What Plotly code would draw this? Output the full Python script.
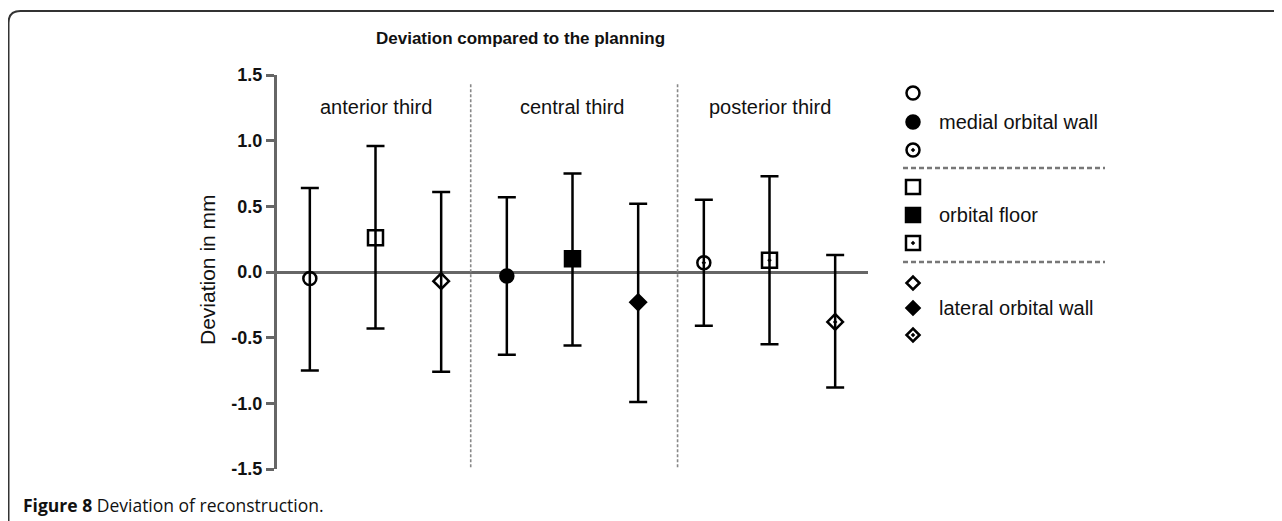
import plotly.graph_objects as go

# ---------------- data ----------------
regions = ["anterior third", "central third", "posterior third"]
structures = ["medial orbital wall", "orbital floor", "lateral orbital wall"]

# mean deviation (mm) per region, order: medial, floor, lateral
mean_anterior = [-0.05, 0.26, -0.07]
mean_central = [-0.03, 0.10, -0.23]
mean_posterior = [0.07, 0.09, -0.38]

upper_anterior = [0.64, 0.96, 0.61]
upper_central = [0.57, 0.75, 0.52]
upper_posterior = [0.55, 0.73, 0.13]

lower_anterior = [-0.75, -0.43, -0.76]
lower_central = [-0.63, -0.56, -0.99]
lower_posterior = [-0.41, -0.55, -0.88]

tick_vals = [-1.5, -1.0, -0.5, 0.0, 0.5, 1.0, 1.5]
tick_text = ["-1.5", "-1.0", "-0.5", "0.0", "0.5", "1.0", "1.5"]

title_text = "Deviation compared to the planning"
y_title = "Deviation in mm"
caption_bold = "Figure 8"
caption_rest = " Deviation of reconstruction."

# ---------------- styling ----------------
W, H = 1282, 521
OFF = 8  # page body margin offset
PL, PR, PT, PB = 277, 868, 75, 469  # plot area in screen pixels
FONT = "Liberation Sans, Arial, sans-serif"

shapes_by_region = [
    ["circle-open", "square-open", "diamond-open"],
    ["circle", "square", "diamond"],
    ["circle-open-dot", "square-open-dot", "diamond-open-dot"],
]
sizes = [13, 15, 12]
leg_sizes = [13, 14, 10]

means = [mean_anterior, mean_central, mean_posterior]
uppers = [upper_anterior, upper_central, upper_posterior]
lowers = [lower_anterior, lower_central, lower_posterior]

fig = go.Figure()

for r in range(3):
    for s in range(3):
        m = means[r][s]
        fig.add_trace(go.Scatter(
            x=[r * 3 + s], y=[m], mode="markers",
            marker=dict(symbol=shapes_by_region[r][s], size=sizes[s], color="black",
                        line=dict(color="black", width=2.5)),
            error_y=dict(type="data", symmetric=False,
                         array=[uppers[r][s] - m], arrayminus=[m - lowers[r][s]],
                         color="black", thickness=2.5, width=9),
            showlegend=False, xaxis="x", yaxis="y", cliponaxis=False,
        ))

# legend drawn in a pixel-space overlay axis (screen pixel coordinates)
leg_x = 913
leg_rows = [93, 122, 150, 187, 215, 243, 283, 308, 335]
for s in range(3):
    for r in range(3):
        fig.add_trace(go.Scatter(
            x=[leg_x], y=[leg_rows[s * 3 + r]], mode="markers",
            marker=dict(symbol=shapes_by_region[r][s], size=leg_sizes[s], color="black",
                        line=dict(color="black", width=2.5)),
            showlegend=False, xaxis="x2", yaxis="y2", hoverinfo="skip", cliponaxis=False,
        ))

annotations = []
for s in range(3):
    annotations.append(dict(x=937, y=leg_rows[s * 3 + 1], xref="x2", yref="y2",
                            text=structures[s], showarrow=False, xanchor="left",
                            yanchor="middle", font=dict(family=FONT, size=20, color="#111")))

for r in range(3):
    annotations.append(dict(x=r * 3 + 1, y=1.26, xref="x", yref="y", text=regions[r],
                            showarrow=False, xanchor="center", yanchor="middle",
                            font=dict(family=FONT, size=20, color="#111")))

annotations.append(dict(x=520, y=38, xref="x2", yref="y2", text="<b>" + title_text + "</b>",
                        showarrow=False, xanchor="center", yanchor="middle",
                        font=dict(family=FONT, size=17, color="#111")))
annotations.append(dict(x=207, y=270, xref="x2", yref="y2", text=y_title, textangle=-90,
                        showarrow=False, xanchor="center", yanchor="middle",
                        font=dict(family=FONT, size=21, color="#111")))
annotations.append(dict(x=21, y=505, xref="x2", yref="y2",
                        text="<b>" + caption_bold + "</b>" + caption_rest,
                        showarrow=False, xanchor="left", yanchor="middle",
                        font=dict(family="Open Sans, sans-serif", size=17.5, color="#111")))

shapes = [
    # frame
    dict(type="path", path="M 8.5,540 L 8.5,23 Q 8.5,11 20.5,11 L 1300,11",
         xref="x2", yref="y2", line=dict(color="#333", width=2)),
    # region dividers
    dict(type="line", x0=2.45, x1=2.45, y0=1.43, y1=-1.5, xref="x", yref="y",
         line=dict(color="#888", width=1.6, dash="3px,2px")),
    dict(type="line", x0=5.6, x1=5.6, y0=1.43, y1=-1.5, xref="x", yref="y",
         line=dict(color="#888", width=1.6, dash="3px,2px")),
    # legend separators
    dict(type="line", x0=903, x1=1105, y0=168, y1=168, xref="x2", yref="y2",
         line=dict(color="#777", width=2.5, dash="5px,3px")),
    dict(type="line", x0=903, x1=1105, y0=262, y1=262, xref="x2", yref="y2",
         line=dict(color="#777", width=2.5, dash="5px,3px")),
]

fig.update_layout(
    template="none",
    width=W, height=H, autosize=False,
    margin=dict(l=0, r=0, t=0, b=0, pad=0, autoexpand=False),
    paper_bgcolor="white", plot_bgcolor="rgba(0,0,0,0)",
    showlegend=False,
    xaxis=dict(domain=[(PL - OFF) / W, (PR - OFF) / W], range=[-0.5, 8.5],
               visible=False, fixedrange=True, automargin=False),
    yaxis=dict(domain=[1 - (PB - OFF) / H, 1 - (PT - OFF) / H], range=[-1.5, 1.5],
               tickvals=tick_vals, ticktext=tick_text, showgrid=False,
               showline=True, linecolor="#666", linewidth=3,
               ticks="outside", ticklen=8, tickwidth=2.5, tickcolor="#666",
               tickfont=dict(family=FONT, size=18, color="#111", weight="bold"),
               zeroline=True, zerolinecolor="#666", zerolinewidth=3,
               ticklabelstandoff=0, automargin=False),
    # overlay axis whose units are screen pixels
    xaxis2=dict(domain=[0, 1], range=[OFF, W + OFF], visible=False, anchor="y2",
                fixedrange=True, automargin=False),
    yaxis2=dict(domain=[0, 1], range=[H + OFF, OFF], visible=False, anchor="x2",
                fixedrange=True, automargin=False),
    annotations=annotations,
    shapes=shapes,
)

fig.write_html("out.html")
